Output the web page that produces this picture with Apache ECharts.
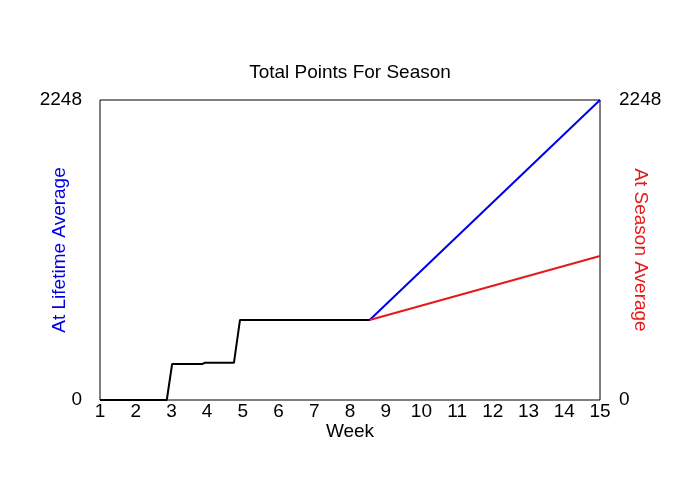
<!DOCTYPE html>
<html>
<head>
<meta charset="utf-8">
<script src="https://cdn.jsdelivr.net/npm/echarts@6/dist/echarts.min.js"></script>
<style>
  html, body { margin: 0; padding: 0; background: #fff; }
  #chart { width: 700px; height: 500px; }
</style>
</head>
<body>
<div id="chart"></div>
<script>
// datos
var weekTicks = [1, 15];
var pointsRange = [0, 2248];

// puntos reales (semanas 1 a 8.5)
var actualWeeks  = [1, 2.87, 3.02, 3.87, 3.93, 4.75, 4.92, 8.55];
var actualPoints = [0, 0, 270, 270, 279, 279, 600, 600];

// proyeccion desde la semana 8.5
var projWeeks     = [8.55, 15];
var lifetimeAvg   = [600, 2248];
var seasonAvg     = [600, 1079];

function pares(xs, ys) {
    return xs.map(function(x, i) { return [x, ys[i]]; });
}

var fuente = "'Liberation Sans', Arial, sans-serif";
var tam = 19;

var chart = echarts.init(document.getElementById('chart'));
chart.setOption({
    animation: false,
    backgroundColor: '#fff',
    textStyle: { fontFamily: fuente },
    title: {
        text: 'Total Points For Season',
        left: 'center',
        top: 58,
        textStyle: { fontSize: tam, fontWeight: 'normal', color: '#000', fontFamily: fuente }
    },
    grid: {
        left: 100, right: 100, top: 100, bottom: 100,
        show: true,
        borderColor: '#000',
        borderWidth: 1,
        containLabel: false
    },
    xAxis: {
        type: 'value',
        min: weekTicks[0],
        max: weekTicks[1],
        interval: 1,
        name: 'Week',
        nameLocation: 'middle',
        nameGap: 22,
        nameMoveOverlap: false,
        nameTextStyle: { fontSize: tam, color: '#000' },
        axisLine: { show: false },
        axisTick: { show: false },
        splitLine: { show: false },
        axisLabel: { fontSize: tam, color: '#000', margin: 2 }
    },
    yAxis: [{
        type: 'value',
        position: 'left',
        min: pointsRange[0],
        max: pointsRange[1],
        interval: pointsRange[1],
        name: 'At Lifetime Average',
        nameLocation: 'middle',
        nameGap: 31,
        nameMoveOverlap: false,
        nameTextStyle: { fontSize: tam, color: '#0000e6' },
        axisLine: { show: false },
        axisTick: { show: false },
        splitLine: { show: false },
        axisLabel: {
            fontSize: tam, color: '#000', margin: 18,
            showMinLabel: true, showMaxLabel: true,
            formatter: function(v) { return String(v); }
        }
    }, {
        type: 'value',
        position: 'right',
        min: pointsRange[0],
        max: pointsRange[1],
        interval: pointsRange[1],
        name: 'At Season Average',
        nameLocation: 'middle',
        nameRotate: -90,
        nameGap: 31,
        nameMoveOverlap: false,
        nameTextStyle: { fontSize: tam, color: '#e61919' },
        axisLine: { show: false },
        axisTick: { show: false },
        splitLine: { show: false },
        axisLabel: {
            fontSize: tam, color: '#000', margin: 19,
            showMinLabel: true, showMaxLabel: true,
            formatter: function(v) { return String(v); }
        }
    }],
    series: [{
        name: 'Lifetime',
        type: 'line',
        data: pares(projWeeks, lifetimeAvg),
        showSymbol: false,
        lineStyle: { color: '#0000e6', width: 2 },
        z: 3
    }, {
        name: 'Season',
        type: 'line',
        data: pares(projWeeks, seasonAvg),
        showSymbol: false,
        lineStyle: { color: '#e61919', width: 2 },
        z: 3
    }, {
        name: 'Actual',
        type: 'line',
        data: pares(actualWeeks, actualPoints),
        showSymbol: false,
        lineStyle: { color: '#000', width: 2 },
        z: 4
    }]
});
</script>
</body>
</html>
